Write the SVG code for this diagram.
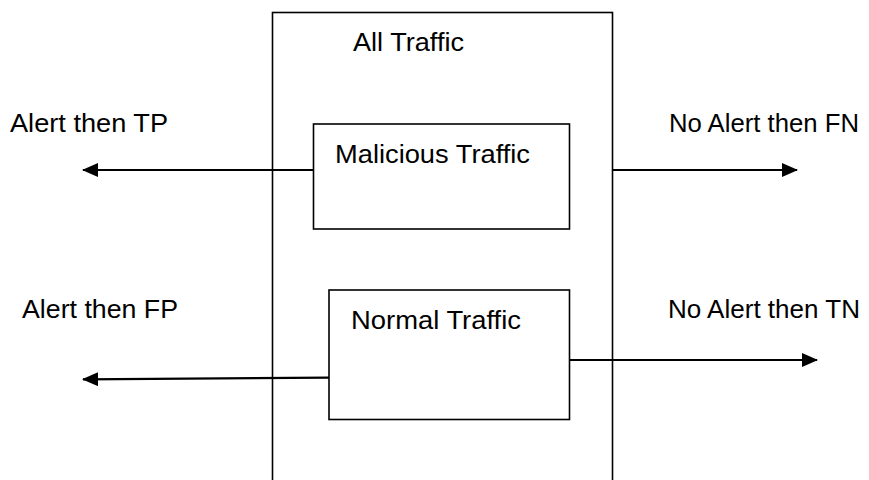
<svg xmlns="http://www.w3.org/2000/svg" width="869" height="480" viewBox="0 0 869 480">
  <defs>
    <marker id="arrow" viewBox="0 0 16 14" refX="15" refY="7" markerWidth="16" markerHeight="14" markerUnits="userSpaceOnUse" orient="auto">
      <path d="M0,0 L16,7 L0,14 Z" fill="#000"/>
    </marker>
    <style>
      .box { fill: #fff; stroke: #000; stroke-width: 1.6; }
      .lbl { font-family: "Liberation Sans", Arial, sans-serif; font-size: 26px; fill: #000; }
      .conn { fill: none; stroke: #000; stroke-width: 2.2; }
    </style>
  </defs>
  <rect width="869" height="480" fill="#fff"/>

  <!-- outer container -->
  <g id="all-traffic">
    <rect class="box" x="272.5" y="12.5" width="340" height="500"/>
    <text class="lbl" x="353" y="51" textLength="111" lengthAdjust="spacingAndGlyphs">All Traffic</text>
  </g>

  <g id="malicious-traffic">
    <rect class="box" x="313.5" y="124" width="256" height="105"/>
    <text class="lbl" x="335" y="162.5" textLength="195" lengthAdjust="spacingAndGlyphs">Malicious Traffic</text>
  </g>

  <g id="normal-traffic">
    <rect class="box" x="329" y="290" width="240.5" height="129.5"/>
    <text class="lbl" x="351" y="329" textLength="170" lengthAdjust="spacingAndGlyphs">Normal Traffic</text>
  </g>

  <!-- outcome labels -->
  <g id="alert-tp">
    <text class="lbl" x="10" y="132" textLength="158" lengthAdjust="spacingAndGlyphs">Alert then TP</text>
  </g>
  <g id="no-alert-fn">
    <text class="lbl" x="669" y="132" textLength="190" lengthAdjust="spacingAndGlyphs">No Alert then FN</text>
  </g>
  <g id="alert-fp">
    <text class="lbl" x="22" y="318" textLength="156" lengthAdjust="spacingAndGlyphs">Alert then FP</text>
  </g>
  <g id="no-alert-tn">
    <text class="lbl" x="668" y="318" textLength="192" lengthAdjust="spacingAndGlyphs">No Alert then TN</text>
  </g>

  <g id="connectors">
    <line class="conn" x1="313.5" y1="170" x2="83" y2="170" marker-end="url(#arrow)"/>
    <line class="conn" x1="612.5" y1="170" x2="797" y2="170" marker-end="url(#arrow)"/>
    <line class="conn" x1="329" y1="377.7" x2="83" y2="379.3" marker-end="url(#arrow)"/>
    <line class="conn" x1="569.5" y1="360" x2="817" y2="360" marker-end="url(#arrow)"/>
  </g>
</svg>
